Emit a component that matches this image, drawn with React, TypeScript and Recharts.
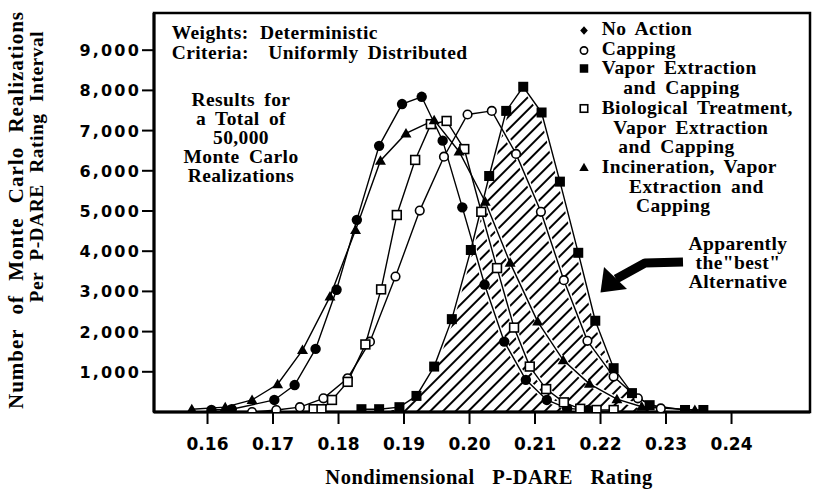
import React from "react";
import { ComposedChart, Line, Area, XAxis, YAxis, ReferenceArea } from "recharts";

const xTicks = [0.16, 0.17, 0.18, 0.19, 0.2, 0.21, 0.22, 0.23, 0.24];
const yTicks = [1000, 2000, 3000, 4000, 5000, 6000, 7000, 8000, 9000];

// No Action (filled)
const noActionX = [0.1606, 0.1637, 0.1702, 0.1733, 0.1765, 0.1797, 0.1828, 0.1862, 0.1897, 0.1927, 0.1959, 0.1989, 0.2023, 0.2053, 0.2086, 0.2118, 0.2149, 0.2181];
const noActionY = [50, 70, 300, 670, 1570, 3040, 4780, 6620, 7660, 7840, 6750, 5090, 3170, 1750, 800, 300, 90, 50];

// Capping (open circle)
const cappingX = [0.1668, 0.1705, 0.1741, 0.1777, 0.1814, 0.1848, 0.1887, 0.1924, 0.1961, 0.1997, 0.2034, 0.2071, 0.2109, 0.2144, 0.218, 0.222, 0.2257, 0.2292];
const cappingY = [0, 50, 120, 340, 840, 1750, 3370, 5010, 6350, 7400, 7490, 6420, 4980, 3280, 1770, 880, 340, 90];

// Vapor Extraction and Capping (filled square, hatched)
const vaporX = [0.1835, 0.1862, 0.1893, 0.1919, 0.1946, 0.1973, 0.2002, 0.203, 0.2056, 0.2082, 0.211, 0.2138, 0.2166, 0.2192, 0.222, 0.2248, 0.2275, 0.2329, 0.2357];
const vaporY = [70, 70, 120, 400, 1130, 2310, 4030, 5870, 7490, 8090, 7450, 5730, 3960, 2270, 1090, 470, 170, 50, 50];

// Biological Treatment, Vapor Extraction and Capping (open square)
const bioX = [0.1762, 0.1774, 0.179, 0.1814, 0.1841, 0.1865, 0.1889, 0.1917, 0.1941, 0.1965, 0.1992, 0.2018, 0.2042, 0.2068, 0.2092, 0.2117, 0.2144, 0.2169, 0.2194, 0.222];
const bioY = [70, 70, 300, 750, 1680, 3050, 4900, 6270, 7160, 7240, 6540, 4980, 3580, 2100, 1130, 570, 240, 80, 50, 50];

// Incineration, Vapor Extraction and Capping (filled triangle)
const incX = [0.1576, 0.1627, 0.1668, 0.1707, 0.1745, 0.1787, 0.1826, 0.1864, 0.1903, 0.1946, 0.1984, 0.2024, 0.2062, 0.2104, 0.2143, 0.2183, 0.2225, 0.2263, 0.2344];
const incY = [70, 120, 300, 690, 1540, 2870, 4530, 6250, 6930, 7260, 6480, 5230, 3710, 2250, 1290, 700, 320, 130, 50];

const X_DOMAIN: [number, number] = [0.15183, 0.25198];
const Y_DOMAIN: [number, number] = [0, 9925];

const pts = (xs: number[], ys: number[]) => xs.map((x, i) => ({ x, y: ys[i] }));

type Kind = "dot" | "ring" | "box" | "openBox" | "tri" | "diamond";

function Marker({ kind, cx, cy, s = 1 }: { kind: Kind; cx: number; cy: number; s?: number }) {
  if (cx == null || cy == null) return null;
  switch (kind) {
    case "dot":
      return <circle cx={cx} cy={cy} r={5.2 * s} fill="#000" />;
    case "diamond":
      return <polygon points={`${cx},${cy - 5 * s} ${cx + 4.5 * s},${cy} ${cx},${cy + 5 * s} ${cx - 4.5 * s},${cy}`} fill="#000" />;
    case "ring":
      return <circle cx={cx} cy={cy} r={4.3 * s} fill="#fff" stroke="#000" strokeWidth={1.6} />;
    case "box":
      return <rect x={cx - 5 * s} y={cy - 5 * s} width={10 * s} height={10 * s} fill="#000" />;
    case "openBox":
      return <rect x={cx - 4.4 * s} y={cy - 4.4 * s} width={8.8 * s} height={8.8 * s} fill="#fff" stroke="#000" strokeWidth={1.6} />;
    case "tri":
      return <polygon points={`${cx},${cy - 5.5 * s} ${cx + 5.5 * s},${cy + 4 * s} ${cx - 5.5 * s},${cy + 4 * s}`} fill="#000" />;
  }
  return null;
}

const series: { key: string; data: { x: number; y: number }[]; kind: Kind }[] = [
  { key: "noAction", data: pts(noActionX, noActionY), kind: "dot" },
  { key: "capping", data: pts(cappingX, cappingY), kind: "ring" },
  { key: "bio", data: pts(bioX, bioY), kind: "openBox" },
  { key: "inc", data: pts(incX, incY), kind: "tri" },
  { key: "vapor", data: pts(vaporX, vaporY), kind: "box" },
];

const serif = { fontFamily: '"Liberation Serif", "Times New Roman", serif', fontWeight: 700, fill: "#000" };
const sans = { fontFamily: '"DejaVu Sans", sans-serif', fontWeight: 700, fill: "#000" };
const body = { ...serif, fontSize: 19.5, letterSpacing: 0.4, wordSpacing: 4 };

const XTick = ({ x, y, payload }: any) => (
  <text x={x} y={y} dy={12} textAnchor="middle" style={{ ...sans, fontSize: 17 }}>
    {payload.value.toFixed(2)}
  </text>
);

const YTick = ({ x, y, payload }: any) => (
  <text x={x} y={y} dy={6} textAnchor="end" style={{ ...sans, fontSize: 16, letterSpacing: 2.2 }}>
    {payload.value.toLocaleString("en-US")}
  </text>
);

const legendRows: { text: string; x: number; y: number }[] = [
  { text: "No Action", x: 601.7, y: 35 },
  { text: "Capping", x: 601.7, y: 54.5 },
  { text: "Vapor Extraction", x: 601.7, y: 74 },
  { text: "and Capping", x: 623.3, y: 94 },
  { text: "Biological Treatment,", x: 601.7, y: 114 },
  { text: "Vapor Extraction", x: 613.3, y: 133.5 },
  { text: "and Capping", x: 618.3, y: 153 },
  { text: "Incineration, Vapor", x: 601.7, y: 173 },
  { text: "Extraction and", x: 629, y: 192.5 },
  { text: "Capping", x: 636, y: 212 },
];

const legendMarks: { kind: Kind; y: number }[] = [
  { kind: "diamond", y: 30.5 },
  { kind: "ring", y: 50.5 },
  { kind: "box", y: 68.5 },
  { kind: "openBox", y: 108.5 },
  { kind: "tri", y: 167.5 },
];

const resultsLines = ["Results for", "a Total of", "50,000", "Monte Carlo", "Realizations"];
const bestLines = ["Apparently", 'the"best"', "Alternative"];

export default function App() {
  return (
    <div style={{ position: "absolute", left: 0, top: 0, width: 816, height: 491, background: "#fff" }}>
      <ComposedChart width={816} height={491} margin={{ top: 13, right: 6, bottom: 0, left: 0 }}>
        <defs>
          <pattern id="hatch" patternUnits="userSpaceOnUse" width={9} height={9} patternTransform="rotate(45)">
            <line x1={0} y1={0} x2={0} y2={9} stroke="#000" strokeWidth={4} />
          </pattern>
        </defs>
        <XAxis
          type="number"
          dataKey="x"
          domain={X_DOMAIN}
          allowDataOverflow
          ticks={xTicks}
          height={79}
          axisLine={{ stroke: "#000", strokeWidth: 3 }}
          tickLine={{ stroke: "#000", strokeWidth: 2 }}
          tickSize={12}
          tickMargin={14}
          tick={<XTick />}
          interval={0}
        />
        <YAxis
          type="number"
          dataKey="y"
          domain={Y_DOMAIN}
          allowDataOverflow
          ticks={yTicks}
          width={154}
          axisLine={{ stroke: "#000", strokeWidth: 3 }}
          tickLine={{ stroke: "#000", strokeWidth: 2 }}
          tickSize={12}
          tickMargin={1}
          tick={<YTick />}
          interval={0}
        />
        <ReferenceArea x1={X_DOMAIN[0]} x2={X_DOMAIN[1]} y1={Y_DOMAIN[0]} y2={Y_DOMAIN[1]} fill="none" stroke="#000" strokeWidth={2.5} fillOpacity={0} />
        <Area
          data={pts(vaporX, vaporY)}
          dataKey="y"
          type="linear"
          fill="url(#hatch)"
          fillOpacity={1}
          stroke="none"
          baseValue={0}
          isAnimationActive={false}
          activeDot={false}
        />
        {series.map((s) => (
          <Line
            key={`${s.key}-halo`}
            data={s.data}
            dataKey="y"
            type="linear"
            stroke="#fff"
            strokeWidth={4.5}
            dot={false}
            activeDot={false}
            isAnimationActive={false}
          />
        ))}
        {series.map((s) => (
          <Line
            key={s.key}
            data={s.data}
            dataKey="y"
            type="linear"
            stroke="#000"
            strokeWidth={1.4}
            dot={(p: any) => <Marker key={`${s.key}-${p.index}`} kind={s.kind} cx={p.cx} cy={p.cy} />}
            activeDot={false}
            isAnimationActive={false}
          />
        ))}
      </ComposedChart>
      <svg width={816} height={491} style={{ position: "absolute", left: 0, top: 0, pointerEvents: "none" }}>
        <text x={171.7} y={38.5} style={body}>Weights:</text>
        <text x={260} y={38.5} style={body}>Deterministic</text>
        <text x={171.7} y={58.5} style={body}>Criteria:</text>
        <text x={268.3} y={58.5} style={body}>Uniformly Distributed</text>
        {resultsLines.map((t, i) => (
          <text key={t} x={241} y={105.5 + i * 19} textAnchor="middle" style={body}>
            {t}
          </text>
        ))}
        {legendMarks.map((m) => (
          <Marker key={m.kind} kind={m.kind} cx={584} cy={m.y} s={0.85} />
        ))}
        {legendRows.map((r, i) => (
          <text key={i} x={r.x} y={r.y} style={body}>
            {r.text}
          </text>
        ))}
        {bestLines.map((t, i) => (
          <text key={t} x={738} y={249.5 + i * 19} textAnchor="middle" style={body}>
            {t}
          </text>
        ))}
        <polyline points="683,262 645,263 616,279" fill="none" stroke="#000" strokeWidth={9} strokeLinejoin="round" />
        <polygon points="600.5,292.5 604,267 627,289" fill="#000" />
        <text x={489} y={483.5} textAnchor="middle" style={{ ...serif, fontSize: 20.5, letterSpacing: 0.5, wordSpacing: 12 }}>
          Nondimensional P-DARE Rating
        </text>
        <text transform="translate(23.3, 210) rotate(-90)" textAnchor="middle" style={{ ...serif, fontSize: 21, letterSpacing: 1, wordSpacing: 8 }}>
          Number of Monte Carlo Realizations
        </text>
        <text transform="translate(43.3, 166.7) rotate(-90)" textAnchor="middle" style={{ ...serif, fontSize: 19.5, letterSpacing: 0.5, wordSpacing: 6 }}>
          Per P-DARE Rating Interval
        </text>
      </svg>
    </div>
  );
}
